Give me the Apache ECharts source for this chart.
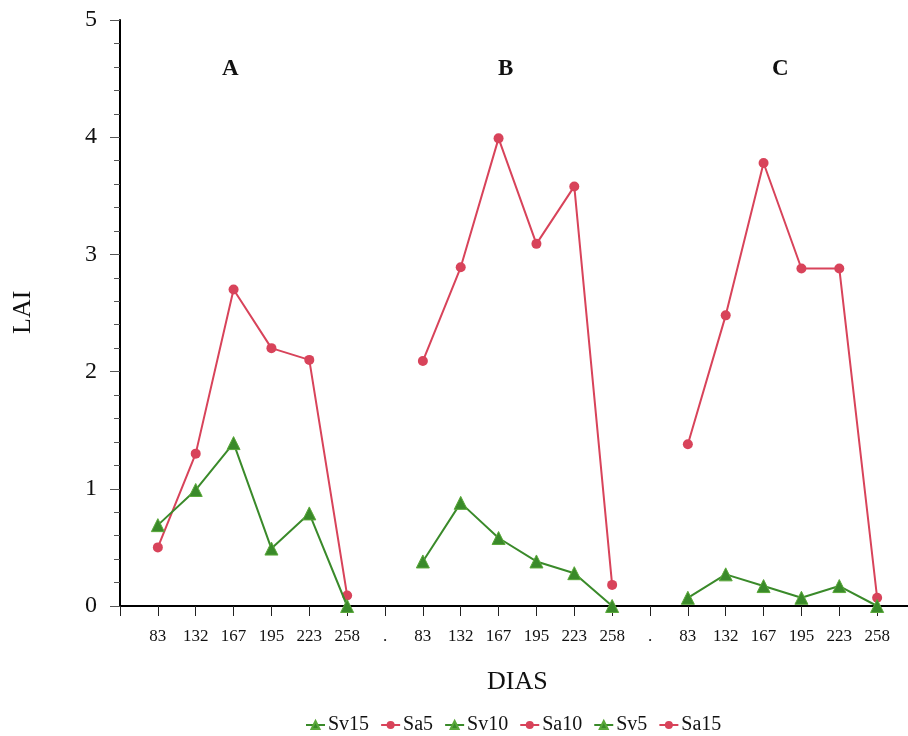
<!DOCTYPE html>
<html><head><meta charset="utf-8">
<script src="https://cdn.jsdelivr.net/npm/echarts@6/dist/echarts.min.js"></script>
<style>html,body{margin:0;padding:0;background:#fff}#c{width:908px;height:736px}</style>
</head><body><div id="c"></div>
<script>
const days = ["83","132","167","195","223","258"];
const panels = ["A","B","C"];
const greenNames = ["Sv15","Sv10","Sv5"];
const redNames = ["Sa5","Sa10","Sa15"];
const greenA = [0.69, 0.99, 1.39, 0.49, 0.79, 0.0];
const redA   = [0.50, 1.30, 2.70, 2.20, 2.10, 0.09];
const greenB = [0.38, 0.88, 0.58, 0.38, 0.28, 0.0];
const redB   = [2.09, 2.89, 3.99, 3.09, 3.58, 0.18];
const greenC = [0.07, 0.27, 0.17, 0.07, 0.17, 0.0];
const redC   = [1.38, 2.48, 3.78, 2.88, 2.88, 0.07];
const yTicks = ["0","1","2","3","4","5"];

const greens = [greenA, greenB, greenC];
const reds = [redA, redB, redC];

// category axis: leading blank, panel days separated by "."
const cats = [""];
panels.forEach((p, i) => { if (i > 0) cats.push("."); days.forEach(d => cats.push(d)); });
cats.push("");
const offsets = panels.map((p, i) => 1 + i * (days.length + 1));

function fill(vals, off) {
  const arr = cats.map(() => null);
  vals.forEach((v, i) => { arr[off + i] = v; });
  return arr;
}

const RED = '#d8435a', GREEN = '#3a8a2a';
const FONT = '"Liberation Serif", "Times New Roman", serif';
const series = [];
panels.forEach((p, i) => {
  series.push({
    name: greenNames[i], type: 'line', data: fill(greens[i], offsets[i]),
    symbol: 'triangle', symbolSize: 13, connectNulls: false,
    lineStyle: { color: GREEN, width: 2 }, itemStyle: { color: GREEN, borderColor: '#5aa83a', borderWidth: 1 },
    z: 3
  });
  series.push({
    name: redNames[i], type: 'line', data: fill(reds[i], offsets[i]),
    symbol: 'circle', symbolSize: 10, connectNulls: false,
    lineStyle: { color: RED, width: 2 }, itemStyle: { color: RED },
    z: 2
  });
});
const legendOrder = [greenNames[0], redNames[0], greenNames[1], redNames[1], greenNames[2], redNames[2]];

const chart = echarts.init(document.getElementById('c'));
chart.setOption({
  animation: false,
  backgroundColor: '#fff',
  grid: { left: 120, right: -7, top: 20, bottom: 130, containLabel: false, outerBoundsMode: 'none' },
  xAxis: {
    type: 'category', data: cats, boundaryGap: false,
    axisLine: { lineStyle: { color: '#000', width: 2 } },
    axisTick: { show: true, length: 10, lineStyle: { color: '#222' }, interval: 0 },
    axisLabel: { interval: 0, color: '#111', fontFamily: FONT, fontSize: 17, margin: 22 },
    splitLine: { show: false }
  },
  yAxis: {
    type: 'value', min: 0, max: 5, interval: 1,
    axisLine: { show: true, lineStyle: { color: '#000', width: 2 } },
    axisTick: { show: true, length: 10, lineStyle: { color: '#555' } },
    minorTick: { show: true, splitNumber: 5, length: 6, lineStyle: { color: '#555' } },
    axisLabel: { color: '#111', fontFamily: FONT, fontSize: 24, margin: 23,
      formatter: v => yTicks[Math.round(v)] },
    splitLine: { show: false }
  },
  legend: {
    data: legendOrder, top: 710, left: 300,
    itemWidth: 19, itemHeight: 10, itemGap: 11,
    textStyle: { fontFamily: FONT, fontSize: 20, color: '#111', padding: [0, 0, 0, -2] }
  },
  graphic: [
    { type: 'text', left: 487, top: 669, style: { text: 'DIAS', font: '26px ' + FONT, fill: '#111' } },
    { type: 'text', x: 10, y: 334, rotation: Math.PI / 2, style: { text: 'LAI', font: '26px ' + FONT, fill: '#111' } },
    { type: 'text', left: 222, top: 58, style: { text: panels[0], font: '600 23px ' + FONT, fill: '#111' } },
    { type: 'text', left: 498, top: 58, style: { text: panels[1], font: '600 23px ' + FONT, fill: '#111' } },
    { type: 'text', left: 772, top: 58, style: { text: panels[2], font: '600 23px ' + FONT, fill: '#111' } }
  ],
  series: series
});
</script></body></html>
